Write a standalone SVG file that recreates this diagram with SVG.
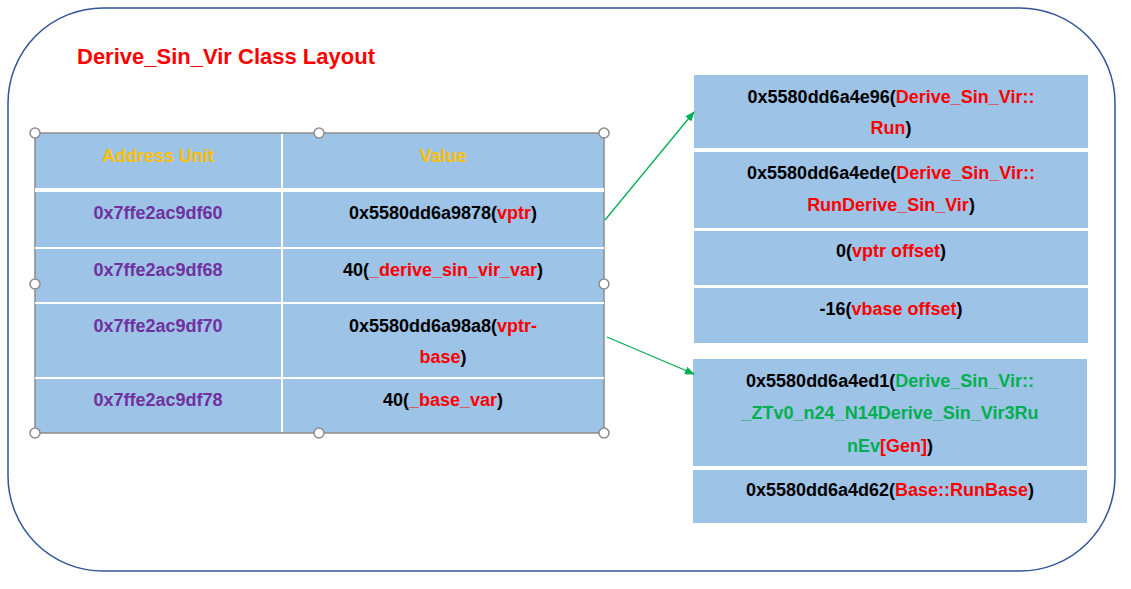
<svg xmlns="http://www.w3.org/2000/svg" width="1131" height="589" viewBox="0 0 1131 589">
<style>
text{font-family:"Liberation Sans",Arial,sans-serif;font-weight:bold;font-size:18px;text-anchor:middle}
.cell{fill:#9DC3E6}
.k{fill:#000}.r{fill:#FF0000}.g{fill:#00B050}.p{fill:#7030A0}.y{fill:#FFC000}
.h{fill:#fff;stroke:#8c8c8c;stroke-width:1.5}
.sep{stroke:#fff;stroke-width:2}
</style>
<defs><marker id="ah" markerWidth="10" markerHeight="8" refX="9" refY="4" orient="auto" markerUnits="userSpaceOnUse"><path d="M0,0L10,4L0,8z" fill="#00B050"/></marker></defs>
<rect x="8" y="8" width="1107" height="563" rx="95" fill="#fff" stroke="#2F5597" stroke-width="1.5"/>
<text x="77" y="64" style="text-anchor:start;font-size:22px" class="r">Derive_Sin_Vir Class Layout</text>
<g id="table">
<rect x="35" y="133" width="569" height="300" class="cell" stroke="#8c8c8c" stroke-width="1.5"/>
<line x1="35" y1="190" x2="604" y2="190" stroke="#fff" stroke-width="4"/>
<line x1="35" y1="248" x2="604" y2="248" class="sep"/>
<line x1="35" y1="303" x2="604" y2="303" class="sep"/>
<line x1="35" y1="378" x2="604" y2="378" class="sep"/>
<line x1="282" y1="134" x2="282" y2="432" class="sep"/>
<text x="158" y="162" class="y">Address Unit</text><text x="443" y="162" class="y">Value</text>
<text x="158" y="219" class="p">0x7ffe2ac9df60</text><text x="443" y="219" class="k">0x5580dd6a9878(<tspan class="r">vptr</tspan>)</text>
<text x="158" y="276" class="p">0x7ffe2ac9df68</text><text x="443" y="276" class="k">40(<tspan class="r">_derive_sin_vir_var</tspan>)</text>
<text x="158" y="332" class="p">0x7ffe2ac9df70</text><text x="443" y="332" class="k">0x5580dd6a98a8(<tspan class="r">vptr-</tspan></text>
<text x="443" y="363" class="k"><tspan class="r">base</tspan>)</text>
<text x="158" y="406" class="p">0x7ffe2ac9df78</text><text x="443" y="406" class="k">40(<tspan class="r">_base_var</tspan>)</text>
<circle cx="35" cy="133" r="5" class="h"/><circle cx="319" cy="133" r="5" class="h"/><circle cx="604" cy="133" r="5" class="h"/>
<circle cx="35" cy="284" r="5" class="h"/><circle cx="604" cy="284" r="5" class="h"/>
<circle cx="35" cy="433" r="5" class="h"/><circle cx="319" cy="433" r="5" class="h"/><circle cx="604" cy="433" r="5" class="h"/>
</g>
<g id="vtable1">
<rect x="694" y="75" width="394" height="73" class="cell"/>
<text x="891" y="103" class="k">0x5580dd6a4e96(<tspan class="r">Derive_Sin_Vir::</tspan></text>
<text x="891" y="134" class="k"><tspan class="r">Run</tspan>)</text>
<rect x="694" y="152" width="394" height="76" class="cell"/>
<text x="891" y="179" class="k">0x5580dd6a4ede(<tspan class="r">Derive_Sin_Vir::</tspan></text>
<text x="891" y="211" class="k"><tspan class="r">RunDerive_Sin_Vir</tspan>)</text>
<rect x="694" y="231" width="394" height="54" class="cell"/>
<text x="891" y="257" class="k">0(<tspan class="r">vptr offset</tspan>)</text>
<rect x="694" y="288" width="394" height="55" class="cell"/>
<text x="891" y="315" class="k">-16(<tspan class="r">vbase offset</tspan>)</text>
</g>
<g id="vtable2">
<rect x="693" y="359" width="394" height="107" class="cell"/>
<text x="890" y="387" class="k">0x5580dd6a4ed1(<tspan class="g">Derive_Sin_Vir::</tspan></text>
<text x="890" y="419" class="g">_ZTv0_n24_N14Derive_Sin_Vir3Ru</text>
<text x="890" y="452" class="k"><tspan class="g">nEv</tspan><tspan class="r">[Gen]</tspan>)</text>
<rect x="693" y="470" width="394" height="53" class="cell"/>
<text x="890" y="496" class="k">0x5580dd6a4d62(<tspan class="r">Base::RunBase</tspan>)</text>
</g>
<g id="connectors" stroke="#00B050" stroke-width="1.3" fill="none">
<line x1="605" y1="220" x2="694" y2="112" marker-end="url(#ah)"/>
<line x1="607" y1="337" x2="694" y2="374" marker-end="url(#ah)"/>
</g>
</svg>
